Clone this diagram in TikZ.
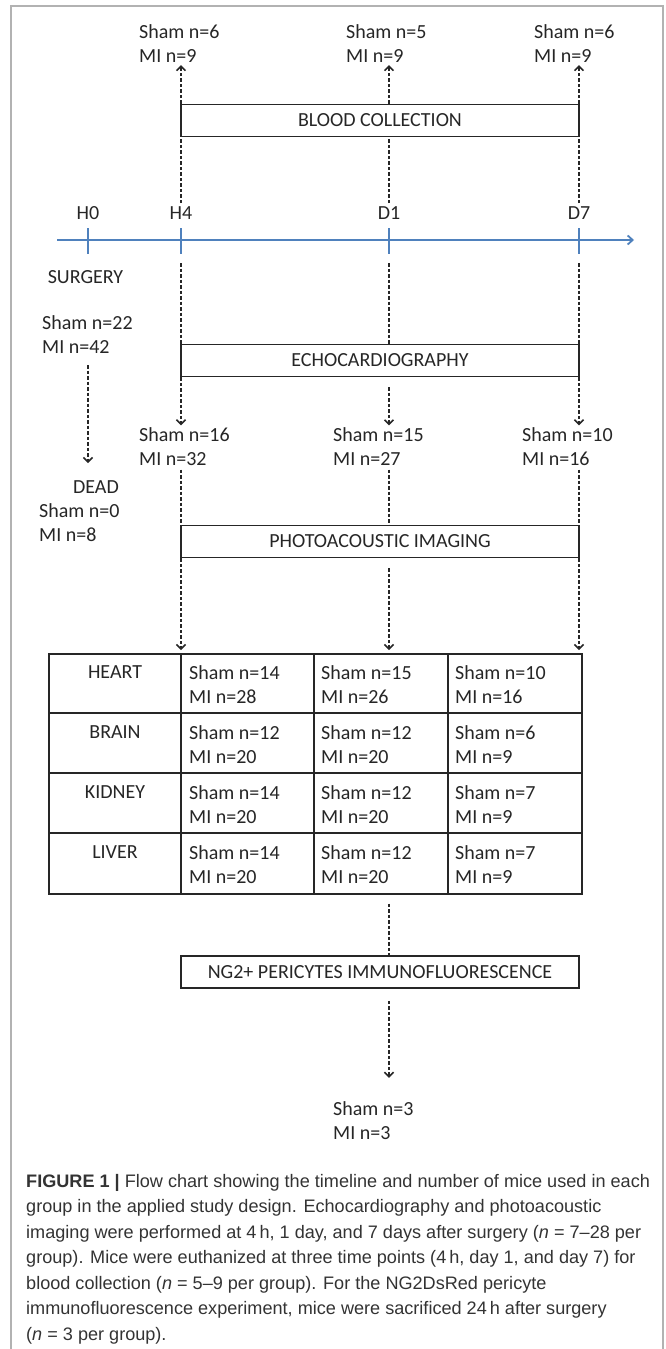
\documentclass[tikz,border=0pt]{standalone}
\usepackage{fontspec}
\setmainfont{Carlito}
\newfontfamily\capfont{Liberation Sans}
\usetikzlibrary{arrows.meta,positioning}
\definecolor{timeblue}{RGB}{79,129,189}

\begin{document}
\begin{tikzpicture}[x=1pt, y=-1pt, font=\fontsize{20}{24}\selectfont, text=black!85,
    stage/.style={draw=black!85, line width=1.6pt, minimum width=398pt, minimum height=32pt, inner sep=0pt},
    count/.style={align=left, inner sep=0pt, anchor=west},
    flow/.style={draw=black!85, line width=1.5pt, dash pattern=on 3.5pt off 2pt},
    flowarrow/.style={flow, -{Straight Barb[length=4.5pt,width=9pt]}},
    axis/.style={draw=timeblue, line width=1.8pt},
    grid/.style={draw=black!85, line width=1.5pt}]
    \useasboundingbox (0,0) rectangle (666,1349);
    % frame
    \draw[gray!60, line width=2pt] (10.5,1349) -- (10.5,6) -- (663,6) -- (663,1349);

    % timeline
    \coordinate (t0) at (57,240);
    \coordinate (t1) at (634,240);
    \draw[axis, -{Straight Barb[length=5pt,width=9pt]}] (t0) -- (t1);
    \foreach \x/\n in {88/H0, 181/H4, 389/D1, 579/D7} {
      \draw[axis] (\x,228) -- (\x,254);
      \node (\n) at (\x,213) {\n};
      \coordinate (\n-b) at (\x,263);
    }

    % stages
    \node[stage] (blood) at (380,120.5) {BLOOD COLLECTION};
    \node[stage] (echo) at (380,360.5) {ECHOCARDIOGRAPHY};
    \node[stage] (photo) at (380,541.5) {PHOTOACOUSTIC IMAGING};
    \node[stage] (ng2) at (380,972) {NG2+ PERICYTES IMMUNOFLUORESCENCE};

    % numbers of mice
    \node[count] (up1) at (139,44) {Sham n=6\\MI n=9};
    \node[count] (up2) at (346,44) {Sham n=5\\MI n=9};
    \node[count] (up3) at (534,44) {Sham n=6\\MI n=9};
    \node[count] (mid1) at (139,446.5) {Sham n=16\\MI n=32};
    \node[count] (mid2) at (333,446.5) {Sham n=15\\MI n=27};
    \node[count] (mid3) at (522,446.5) {Sham n=10\\MI n=16};
    \node[count] (ng2n) at (333,1121) {Sham n=3\\MI n=3};

    \node (surgery) at (85.5,277) {SURGERY};
    \node[count] (alive) at (42,335) {Sham n=22\\MI n=42};
    \node (dead) at (96,487) {DEAD};
    \node[count] (deadn) at (39,522.5) {Sham n=0\\MI n=8};

    % organ table
    \node[grid, draw, minimum width=533pt, minimum height=240pt, anchor=north west, inner sep=0pt] (tab) at (48,653) {};
    \foreach \x in {181,314,448}
      \draw[grid] (tab.north -| \x,0) -- (tab.south -| \x,0);
    \foreach \y in {713,773,833}
      \draw[grid] (tab.west |- 0,\y) -- (tab.east |- 0,\y);
    \foreach \organ/\sA/\mA/\sB/\mB/\sC/\mC [count=\i from 0] in
      {HEART/14/28/15/26/10/16, BRAIN/12/20/12/20/6/9,
       KIDNEY/14/20/12/20/7/9, LIVER/14/20/12/20/7/9} {
      \node (\organ) at (115,672+60*\i) {\organ};
      \node[count] (\organ-1) at (189,684.5+60*\i) {Sham n=\sA\\MI n=\mA};
      \node[count] (\organ-2) at (321,684.5+60*\i) {Sham n=\sB\\MI n=\mB};
      \node[count] (\organ-3) at (455,684.5+60*\i) {Sham n=\sC\\MI n=\mC};
    }

    % dashed arrows
    \foreach \n/\u/\m/\s in {H4/up1/mid1/0, D1/up2/mid2/10, D7/up3/mid3/0} {
      \draw[flow] (\n.north) -- (\n |- blood.south);
      \draw[flowarrow, shorten >=2pt] (\n |- blood.north) -- (\n |- \u.south);
      \draw[flow] (\n-b) -- (\n |- echo.north);
      \draw[flowarrow, shorten <=\s pt, shorten >=2pt] (\n |- echo.south) -- (\n |- \m.north);
      \draw[flow, shorten <=4pt] (\n |- \m.south) -- (\n |- photo.north);
      \draw[flowarrow, shorten <=\s pt, shorten >=3pt] (\n |- photo.south) -- (\n |- tab.north);
    }
    \draw[flowarrow, shorten <=11pt, shorten >=14pt] (H0 |- alive.south) -- (H0 |- dead.north);
    \draw[flow, shorten <=9pt] (D1 |- tab.south) -- (D1 |- ng2.north);
    \draw[flowarrow, shorten <=12pt, shorten >=24pt] (D1 |- ng2.south) -- (D1 |- ng2n.north);

    % caption
    \node[anchor=north west, align=left, inner sep=0pt, text=black!80,
      font=\capfont\fontsize{18.1}{25.5}\selectfont] (caption) at (26,1174)
      {\textbf{FIGURE 1 |} Flow chart showing the timeline and number of mice used in each\\
       group in the applied study design. Echocardiography and photoacoustic\\
       imaging were performed at 4\,h, 1 day, and 7 days after surgery (\textit{n} = 7–28 per\\
       group). Mice were euthanized at three time points (4\,h, day 1, and day 7) for\\
       blood collection (\textit{n} = 5–9 per group). For the NG2DsRed pericyte\\
       immunofluorescence experiment, mice were sacrificed 24\,h after surgery\\
       (\textit{n} = 3 per group).};
\end{tikzpicture}
\end{document}
